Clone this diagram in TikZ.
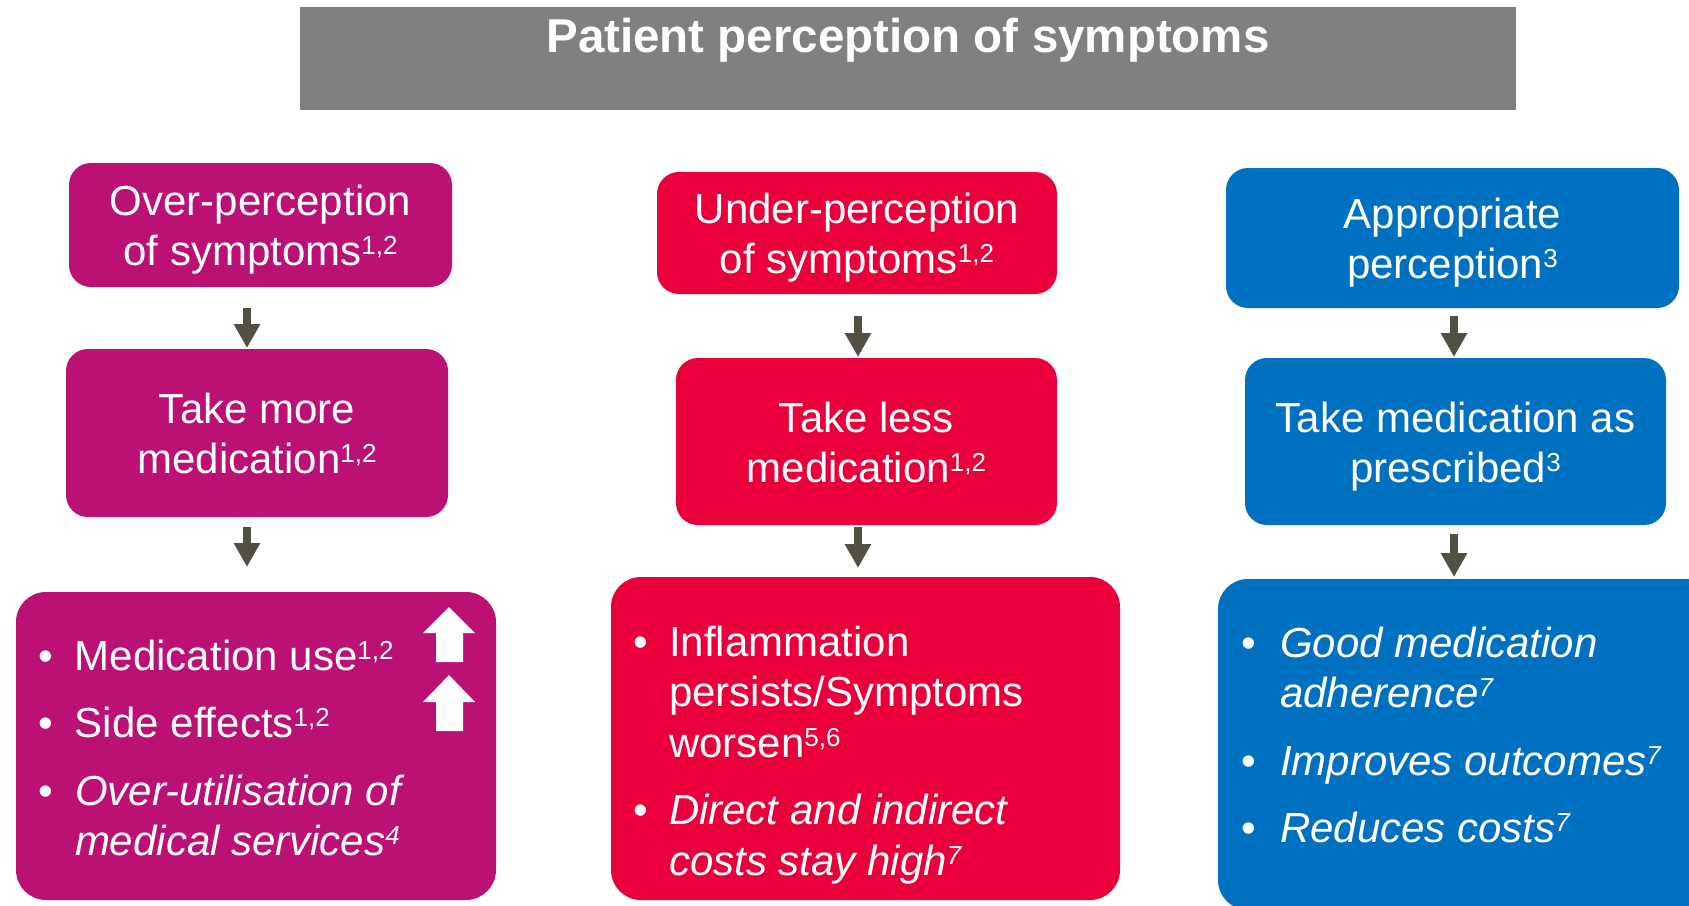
\documentclass[tikz,border=0pt]{standalone}
\usepackage{fontspec}
\setmainfont{Liberation Sans}
\usetikzlibrary{arrows.meta}
\definecolor{magbox}{RGB}{187,17,116}
\definecolor{redbox}{RGB}{233,0,59}
\definecolor{bluebox}{RGB}{0,112,192}
\definecolor{titlegray}{RGB}{128,128,128}
\definecolor{arrowgray}{RGB}{82,80,66}
\newcommand\spr[1]{\raisebox{11pt}{\fontsize{26}{26}\selectfont #1}}
\newcommand\bodyfont{\fontsize{42}{50.5}\selectfont}
\newcommand\bul[1]{\makebox[#1][l]{•}}
\tikzset{
  pbox/.style={fill=#1, rounded corners=22pt, inner sep=0pt, outer sep=0pt},
  bigbox/.style={fill=#1, rounded corners=30pt, inner sep=0pt, outer sep=0pt},
  txt/.style={text=white, inner sep=0pt, outer sep=0pt, anchor=base, font=\bodyfont},
  listtxt/.style={text=white, inner sep=0pt, outer sep=0pt, anchor=base west, font=\bodyfont},
  flow/.style={draw=arrowgray, line width=8pt, -{Triangle[width=25pt,length=24pt]}},
  uparrow/.style={fill=white},
}
\begin{document}
\begin{tikzpicture}[x=1pt,y=-1pt]
\useasboundingbox (0,0) rectangle (1689,905);
\clip (0,0) rectangle (1689,905);

% title
\node[fill=titlegray, inner sep=0pt, minimum width=1216pt, minimum height=103pt] (title) at (908,58.5) {};
\node[text=white, inner sep=0pt, anchor=base, font=\fontsize{47.5}{56}\selectfont\bfseries] (titletext) at (908,52) {Patient perception of symptoms};

% left column
\node[pbox=magbox, minimum width=383pt, minimum height=124pt] (L1) at (260.5,225) {};
\node[txt] (L1t) at (260.5,215) {\begin{tabular}[t]{@{}c@{}}Over-perception\\of symptoms\spr{1,2}\end{tabular}};
\node[pbox=magbox, minimum width=382pt, minimum height=168pt] (L2) at (257,433) {};
\node[txt] (L2t) at (257,423) {\begin{tabular}[t]{@{}c@{}}Take more\\medication\spr{1,2}\end{tabular}};
\node[bigbox=magbox, minimum width=480pt, minimum height=308pt] (L3) at (256,746) {};
\node[listtxt] (L3t) at (38,670) {\begin{tabular}[t]{@{}l@{}l@{}}
\bul{37pt} & Medication use\spr{1,2}\\[17pt]
\bul{37pt} & Side effects\spr{1,2}\\[17pt]
\bul{37pt} & \itshape Over-utilisation of\\
 & \itshape medical services\spr{4}
\end{tabular}};
\fill[uparrow] (436,662) -- (436,633) -- (423,633) -- (449,607) -- (475,633) -- (463,633) -- (463,662) -- cycle;
\fill[uparrow] (436,731) -- (436,702) -- (423,702) -- (449,675) -- (475,702) -- (463,702) -- (463,731) -- cycle;

% middle column
\node[pbox=redbox, minimum width=400pt, minimum height=122pt] (M1) at (857,233) {};
\node[txt] (M1t) at (857,223) {\begin{tabular}[t]{@{}c@{}}Under-perception\\of symptoms\spr{1,2}\end{tabular}};
\node[pbox=redbox, minimum width=381pt, minimum height=167pt] (M2) at (866.5,441.5) {};
\node[txt] (M2t) at (866.5,432) {\begin{tabular}[t]{@{}c@{}}Take less\\medication\spr{1,2}\end{tabular}};
\node[bigbox=redbox, minimum width=509pt, minimum height=323pt] (M3) at (865.5,738.5) {};
\node[listtxt] (M3t) at (633,656) {\begin{tabular}[t]{@{}l@{}l@{}}
\bul{36pt} & Inflammation\\
 & persists/Symptoms\\
 & worsen\spr{5,6}\\[17pt]
\bul{36pt} & \itshape Direct and indirect\\
 & \itshape costs stay high\spr{7}
\end{tabular}};

% right column
\node[pbox=bluebox, minimum width=453pt, minimum height=140pt] (R1) at (1452.5,238) {};
\node[txt] (R1t) at (1452.5,228) {\begin{tabular}[t]{@{}c@{}}Appropriate\\perception\spr{3}\end{tabular}};
\node[pbox=bluebox, minimum width=421pt, minimum height=167pt] (R2) at (1455.5,441.5) {};
\node[txt] (R2t) at (1455.5,432) {\begin{tabular}[t]{@{}c@{}}Take medication as\\prescribed\spr{3}\end{tabular}};
\node[bigbox=bluebox, minimum width=522pt, minimum height=331pt] (R3) at (1479,744.5) {};
\node[listtxt] (R3t) at (1241,657) {\begin{tabular}[t]{@{}l@{}l@{}}
\bul{39pt} & \itshape Good medication\\
 & \itshape adherence\spr{7}\\[17pt]
\bul{39pt} & \itshape Improves outcomes\spr{7}\\[17pt]
\bul{39pt} & \itshape Reduces costs\spr{7}
\end{tabular}};

% connectors
\coordinate (axL) at (247,0);
\coordinate (axM) at (858,0);
\coordinate (axR) at (1454,0);
\draw[flow, shorten <=21pt, shorten >=1pt] (L1.south -| axL) -- (L2.north -| axL);
\draw[flow, shorten <=10pt, shorten >=25pt] (L2.south -| axL) -- (L3.north -| axL);
\draw[flow, shorten <=22pt, shorten >=1pt] (M1.south -| axM) -- (M2.north -| axM);
\draw[flow, shorten <=2pt, shorten >=9pt] (M2.south -| axM) -- (M3.north -| axM);
\draw[flow, shorten <=8pt, shorten >=1pt] (R1.south -| axR) -- (R2.north -| axR);
\draw[flow, shorten <=9pt, shorten >=2pt] (R2.south -| axR) -- (R3.north -| axR);
\end{tikzpicture}
\end{document}
